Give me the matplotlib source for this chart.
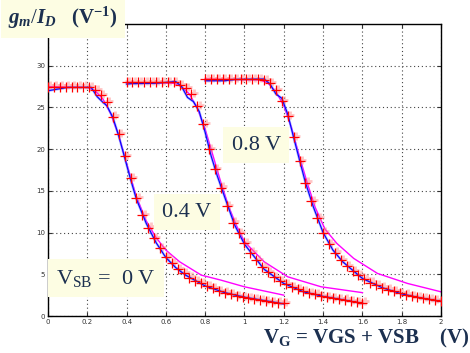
import numpy as np
import matplotlib.pyplot as plt

# gm/ID vs VG for three VSB values: measured (red +, blue) and model (magenta)
vsb = [0.0, 0.4, 0.8]

# red markers: VG sweep every 30 mV
gm_mark0 = [27.5, 27.5, 27.5, 27.5, 27.5, 27.5, 27.5,
            27.4, 27.1, 26.5, 25.6, 23.9, 21.8, 19.2, 16.5, 14.1, 12.1, 10.6, 9.3,
            8.1, 7.1, 6.3, 5.6, 5.1, 4.6, 4.2, 3.9, 3.6, 3.3, 3.0, 2.8, 2.6, 2.4,
            2.25, 2.1, 2.0, 1.9, 1.8, 1.7, 1.6, 1.5]
gm_mark1 = [28.0, 28.0, 28.0, 28.0, 28.0, 28.0, 28.0, 28.0, 28.0,
            27.7, 27.3, 26.6, 25.2, 23.0, 20.0, 17.6, 15.4, 13.2, 11.2, 9.9, 8.7,
            7.6, 6.7, 5.9, 5.3, 4.7, 4.2, 3.8, 3.5, 3.2, 2.95, 2.75, 2.6, 2.4, 2.3,
            2.15, 2.05, 1.95, 1.8, 1.7, 1.6]
gm_mark2 = [28.4, 28.4, 28.4, 28.4, 28.4, 28.4, 28.4, 28.4, 28.4, 28.4,
            28.3, 27.9, 27.1, 25.8, 24.0, 21.4, 18.6, 16.0, 13.8, 11.7, 10.0, 8.6,
            7.6, 6.7, 6.0, 5.4, 4.9, 4.4, 4.0, 3.7, 3.4, 3.15, 2.95, 2.75, 2.55,
            2.4, 2.25, 2.1, 2.0, 1.9, 1.8]

# blue measured lines
vg_blue0 = [0, 0.05, 0.1, 0.22, 0.25, 0.28, 0.3, 0.33, 0.36, 0.39, 0.42, 0.45, 0.5,
            0.55, 0.6, 0.65, 0.7, 0.8, 0.9, 1.0, 1.1, 1.2]
gm_blue0 = [27.0, 27.2, 27.4, 27.4, 26.3, 25.6, 25.2, 23.8, 21.6, 19.0, 16.4, 14.0,
            11.1, 8.8, 7.0, 5.8, 4.9, 3.6, 2.8, 2.25, 1.85, 1.45]
vg_blue1 = [0.4, 0.42, 0.55, 0.65, 0.68, 0.71, 0.74, 0.77, 0.8, 0.83, 0.86, 0.9,
            0.95, 1.0, 1.1, 1.2, 1.3, 1.4, 1.5, 1.6]
gm_blue1 = [27.8, 27.85, 27.9, 28.1, 27.5, 26.2, 25.7, 24.5, 22.0, 19.2, 16.9, 14.2,
            10.9, 8.6, 5.6, 3.9, 2.9, 2.35, 1.95, 1.5]
vg_blue2 = [0.8, 0.9, 0.95, 1.1, 1.13, 1.16, 1.19, 1.22, 1.25, 1.28, 1.31, 1.35,
            1.4, 1.45, 1.5, 1.6, 1.7, 1.8, 1.9, 2.0]
gm_blue2 = [28.2, 28.2, 28.35, 28.4, 27.8, 26.6, 26.1, 24.2, 21.4, 18.7, 16.0, 13.1,
            10.0, 7.9, 6.5, 4.5, 3.4, 2.65, 2.15, 1.75]

# magenta model lines
vg_mod0 = [0, 0.2, 0.24, 0.28, 0.32, 0.36, 0.4, 0.45, 0.5, 0.55, 0.6, 0.67, 0.78,
           0.88, 1.0, 1.1, 1.2]
gm_mod0 = [27.5, 27.4, 27.0, 26.0, 24.2, 21.6, 18.3, 14.3, 11.4, 9.4, 7.9, 6.5, 4.9,
           4.3, 3.5, 3.0, 2.5]
vg_mod1 = [0.4, 0.64, 0.68, 0.72, 0.76, 0.8, 0.84, 0.88, 0.92, 0.96, 1.0, 1.1, 1.22,
           1.39, 1.6]
gm_mod1 = [28.0, 27.9, 27.5, 26.6, 24.9, 22.4, 19.2, 16.0, 13.1, 10.8, 8.9, 6.5, 4.7,
           3.5, 2.8]
vg_mod2 = [0.8, 1.08, 1.12, 1.16, 1.2, 1.24, 1.28, 1.32, 1.36, 1.41, 1.47, 1.556,
           1.677, 1.83, 2.0]
gm_mod2 = [28.4, 28.3, 27.9, 26.9, 25.2, 22.5, 19.1, 15.9, 13.0, 10.4, 8.7, 6.9, 5.1,
           3.9, 2.9]

navy = '#1c3050'
cream = '#fdfde3'
plt.rcParams['mathtext.fontset'] = 'custom'
plt.rcParams['mathtext.rm'] = 'Liberation Serif'
plt.rcParams['mathtext.it'] = 'Liberation Serif:italic:bold'
plt.rcParams['mathtext.bf'] = 'Liberation Serif:bold'

fig = plt.figure(figsize=(4.7, 3.53), dpi=100)
ax = fig.add_axes([0.1021, 0.1048, 0.8362, 0.8272])

marks = [gm_mark0, gm_mark1, gm_mark2]
blues = [(vg_blue0, gm_blue0), (vg_blue1, gm_blue1), (vg_blue2, gm_blue2)]
mods = [(vg_mod0, gm_mod0), (vg_mod1, gm_mod1), (vg_mod2, gm_mod2)]
for v, gm, (xb, yb), (xm, ym) in zip(vsb, marks, blues, mods):
    vg = np.linspace(v, v + 1.2, len(gm))
    ax.plot(xm, ym, color='magenta', lw=1.0, zorder=2)
    ax.plot(np.array(vg) + 0.012, np.array(gm) + 0.15, '+', color='#ff8080',
            alpha=0.45, ms=6, mew=2.0, zorder=3)
    ax.plot(xb, yb, color='#8080ff', lw=1.8, alpha=0.6, zorder=4)
    ax.plot(xb, yb, color='blue', lw=0.8, zorder=5)
    ax.plot(vg, gm, '+', color='red', ms=6.5, mew=0.9, zorder=6)

ax.set_xlim(0, 2)
ax.set_ylim(0, 35)
ax.set_xticks(np.arange(0, 2.01, 0.2))
ax.set_xticklabels(['0', '0.2', '0.4', '0.6', '0.8', '1', '1.2', '1.4', '1.6', '1.8', '2'])
ax.set_yticks([0, 5, 10, 15, 20, 25, 30])
ax.tick_params(direction='in', top=True, right=True, labelsize=5, length=3,
               colors='#333333', pad=2)
ax.grid(True, linestyle=(0, (1, 2.5)), color='#444444', lw=0.8)
for s in ax.spines.values():
    s.set_linewidth(1.0)

box = dict(facecolor=cream, edgecolor='none', pad=6)
fig.text(0.545, 0.589, '0.8 V', fontsize=16, family='Liberation Serif', color=navy,
         ha='center', va='center', bbox=box)
fig.text(0.398, 0.399, '0.4 V', fontsize=16, family='Liberation Serif', color=navy,
         ha='center', va='center', bbox=box)
fig.text(0.226, 0.212, r'V$_{\mathrm{SB}}$ =  0 V', fontsize=16,
         family='Liberation Serif', color=navy, ha='center', va='center', bbox=box)
fig.text(0.017, 0.949, r'$g_m/I_D$   (V$^{\mathbf{-1}}$)', fontsize=15,
         family='Liberation Serif', weight='bold', color=navy, ha='left', va='center',
         bbox=dict(facecolor=cream, edgecolor='none', pad=5))
fig.text(0.56, 0.008, r'V$_{\mathbf{G}}$ = VGS + VSB    (V)', fontsize=15,
         family='Liberation Serif', weight='bold', color=navy, ha='left', va='bottom')

fig.savefig('out.png', dpi=100)
